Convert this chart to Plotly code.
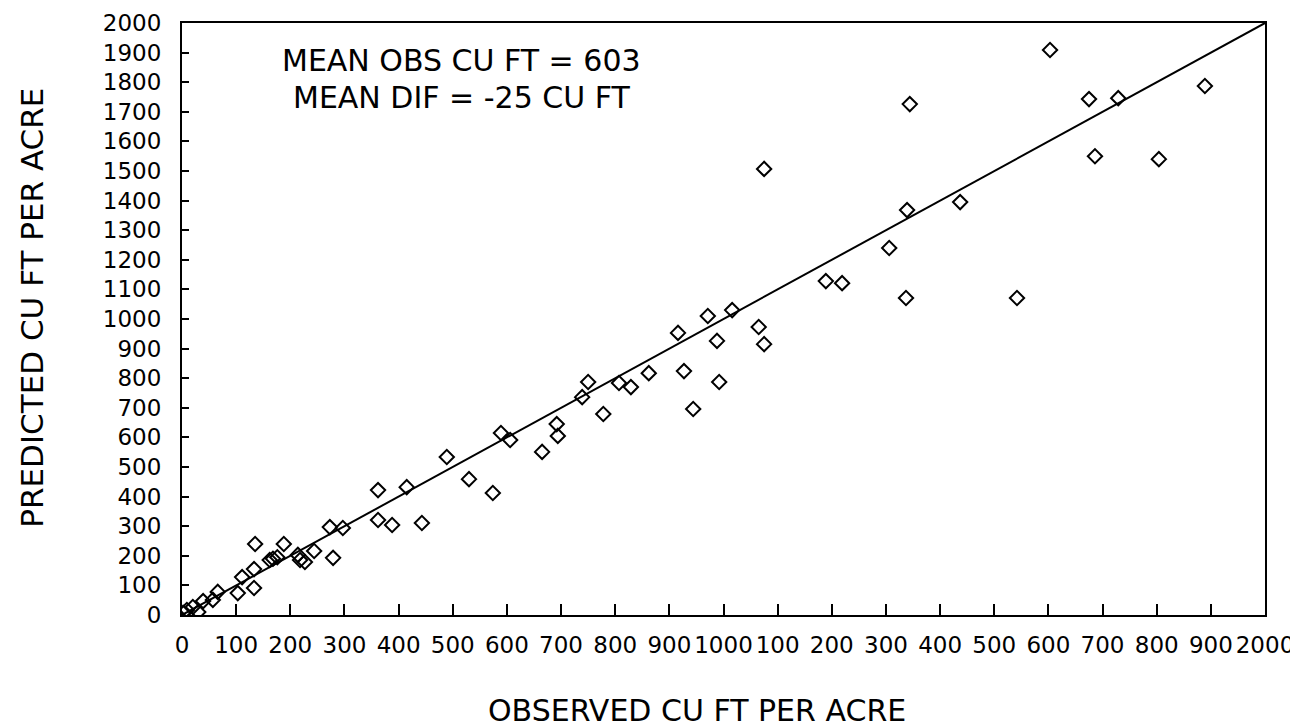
import plotly.graph_objects as go

# Observed vs predicted (cu ft per acre)
observed = [2, 9, 20, 30, 39, 57, 66, 103, 111, 133, 133, 135, 162, 168, 176, 188, 214, 218,
            227, 244, 273, 279, 297, 362, 362, 388, 415, 443, 489, 530, 574, 589, 606, 665,
            692, 694, 739, 750, 778, 807, 829, 862, 916, 927, 944, 971, 988, 992, 1016, 1065,
            1075, 1075, 1189, 1219, 1306, 1337, 1339, 1344, 1437, 1542, 1603, 1675, 1686,
            1729, 1804, 1889]
predicted = [7, 17, 27, 10, 47, 51, 78, 74, 128, 155, 91, 240, 186, 190, 195, 240, 203, 186,
             179, 216, 297, 193, 294, 422, 321, 304, 432, 311, 534, 459, 412, 615, 591, 551,
             645, 605, 736, 787, 679, 784, 770, 817, 953, 824, 696, 1010, 926, 787, 1030, 973,
             915, 1507, 1128, 1121, 1240, 1071, 1368, 1726, 1395, 1071, 1909, 1743, 1550,
             1746, 1540, 1787]

line_x = [0, 2000]
line_y = [0, 2000]

tick_vals = list(range(0, 2001, 100))
x_tick_text = ["0", "100", "200", "300", "400", "500", "600", "700", "800", "900", "1000",
               "100", "200", "300", "400", "500", "600", "700", "800", "900", "2000"]
y_tick_text = [str(v) for v in tick_vals]

note_lines = ["MEAN OBS CU FT = 603", "MEAN DIF = -25 CU FT"]
note_x = [517, 517]
note_y = [1875, 1750]

x_title = "OBSERVED CU FT PER ACRE"
y_title = "PREDICTED CU FT PER ACRE"

FONT = "DejaVu Sans"

fig = go.Figure()
fig.add_trace(go.Scatter(x=line_x, y=line_y, mode="lines",
                         line=dict(color="black", width=2), showlegend=False,
                         hoverinfo="skip"))
fig.add_trace(go.Scatter(x=observed, y=predicted, mode="markers",
                         marker=dict(symbol="diamond-open", size=11, color="black",
                                     line=dict(width=2, color="black")),
                         showlegend=False))

for t, xv, yv in zip(note_lines, note_x, note_y):
    fig.add_annotation(x=xv, y=yv, xref="x", yref="y", text=t, showarrow=False,
                       xanchor="center", yanchor="middle",
                       font=dict(family=FONT, size=30, color="black"))

fig.add_annotation(x=0.4755, y=-0.162, xref="paper", yref="paper", text=x_title,
                   showarrow=False, xanchor="center", yanchor="middle",
                   font=dict(family=FONT, size=30, color="black"))
fig.add_annotation(x=-0.1385, y=0.519, xref="paper", yref="paper", text=y_title,
                   showarrow=False, xanchor="center", yanchor="middle", textangle=-90,
                   font=dict(family=FONT, size=31, color="black"))

fig.update_layout(
    width=1298, height=727,
    margin=dict(l=174, r=41, t=15, b=120),
    paper_bgcolor="white", plot_bgcolor="white",
    font=dict(family=FONT, color="black"),
)
fig.update_xaxes(
    range=[0, 2000], tickmode="array", tickvals=tick_vals, ticktext=x_tick_text,
    ticks="inside", ticklen=11, tickwidth=2, tickcolor="black",
    showline=True, linecolor="black", linewidth=2, mirror=True,
    showgrid=False, zeroline=False, automargin=False, ticklabelstandoff=8,
    tickfont=dict(family=FONT, size=23, color="black"),
)
fig.update_yaxes(
    range=[0, 2000], tickmode="array", tickvals=tick_vals, ticktext=y_tick_text,
    ticks="inside", ticklen=7, tickwidth=2, tickcolor="black",
    showline=True, linecolor="black", linewidth=2, mirror=True,
    showgrid=False, zeroline=False, automargin=False, ticklabelstandoff=14,
    tickfont=dict(family=FONT, size=23, color="black"),
)

fig.write_html("out.html")
